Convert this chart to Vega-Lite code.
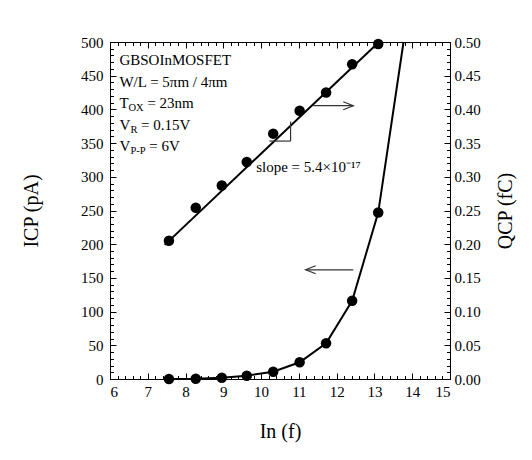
{
  "$schema": "https://vega.github.io/schema/vega-lite/v6.json",
  "width": 340,
  "height": 337,
  "autosize": {"type": "none"},
  "padding": {"left": 110, "top": 42, "right": 82, "bottom": 81},
  "background": "white",
  "config": {
    "view": {"stroke": "black", "strokeWidth": 1},
    "font": "Liberation Serif",
    "axis": {
      "grid": false,
      "domain": false,
      "labelFont": "Liberation Serif",
      "labelFontSize": 15,
      "labelColor": "black",
      "titleFont": "Liberation Serif",
      "titleFontSize": 20,
      "titleFontWeight": "normal",
      "titleColor": "black",
      "tickColor": "black",
      "tickWidth": 1
    }
  },
  "datasets": {
    "icp": [
      {"x": 7.56, "v": 0},
      {"x": 8.27, "v": 0.3},
      {"x": 8.96, "v": 1.8},
      {"x": 9.62, "v": 4.9},
      {"x": 10.32, "v": 10.8},
      {"x": 11.02, "v": 24.8},
      {"x": 11.72, "v": 53},
      {"x": 12.41, "v": 116},
      {"x": 13.1, "v": 247}
    ],
    "icp_line": [
      {"x": 7.56, "v": 0},
      {"x": 8.27, "v": 0.3},
      {"x": 8.96, "v": 1.8},
      {"x": 9.62, "v": 4.9},
      {"x": 10.32, "v": 10.8},
      {"x": 11.02, "v": 24.8},
      {"x": 11.72, "v": 53},
      {"x": 12.41, "v": 116},
      {"x": 13.1, "v": 247},
      {"x": 13.77, "v": 500}
    ],
    "qcp": [
      {"x": 7.56, "q": 0.205},
      {"x": 8.27, "q": 0.254},
      {"x": 8.96, "q": 0.287},
      {"x": 9.62, "q": 0.322},
      {"x": 10.32, "q": 0.364},
      {"x": 11.02, "q": 0.398},
      {"x": 11.72, "q": 0.425},
      {"x": 12.41, "q": 0.467},
      {"x": 13.1, "q": 0.497}
    ],
    "qfit": [
      {"x": 7.45, "q": 0.199},
      {"x": 13.12, "q": 0.5}
    ],
    "rules": [
      {"x": 10.22, "x2": 10.78, "y": 353, "y2": 353},
      {"x": 10.78, "x2": 10.78, "y": 353, "y2": 382},
      {"x": 11.38, "x2": 12.44, "y": 405.5, "y2": 405.5},
      {"x": 11.18, "x2": 12.44, "y": 162, "y2": 162}
    ],
    "heads": [
      {"x": 12.44, "y": 405.5, "dir": "right"},
      {"x": 11.18, "y": 162, "dir": "left"}
    ],
    "labels": [
      {"x": 6.25, "y": 474, "t": "GBSOInMOSFET"},
      {"x": 6.25, "y": 441, "t": "W/L = 5πm / 4πm"},
      {"x": 6.25, "y": 409, "t": "T"},
      {"x": 6.99, "y": 409, "t": "= 23nm"},
      {"x": 6.25, "y": 377, "t": "V"},
      {"x": 6.82, "y": 377, "t": "= 0.15V"},
      {"x": 6.25, "y": 345, "t": "V"},
      {"x": 7.04, "y": 345, "t": "= 6V"},
      {"x": 9.87, "y": 314, "t": "slope = 5.4×10⁻¹⁷"}
    ],
    "subs": [
      {"x": 6.49, "y": 409, "t": "OX"},
      {"x": 6.54, "y": 377, "t": "R"},
      {"x": 6.54, "y": 345, "t": "P-P"}
    ]
  },
  "resolve": {
    "scale": {"x": "independent", "y": "independent"},
    "axis": {"x": "independent", "y": "independent"}
  },
  "layer": [
    {
      "data": {"name": "icp_line"},
      "mark": {"type": "line", "color": "black", "strokeWidth": 2},
      "encoding": {
        "x": {"field": "x", "type": "quantitative",
          "scale": {"domain": [6, 15], "nice": false, "zero": false},
          "axis": {"orient": "bottom", "values": [6,7,8,9,10,11,12,13,14,15], "tickSize": -6, "labelPadding": 11, "title": "In (f)", "titlePadding": 22}},
        "y": {"field": "v", "type": "quantitative",
          "scale": {"domain": [0, 500], "nice": false},
          "axis": {"orient": "left", "values": [0,50,100,150,200,250,300,350,400,450,500], "tickSize": -6, "labelPadding": 13, "title": "ICP (pA)", "titlePadding": 39}}
      }
    },
    {
      "data": {"name": "icp"},
      "mark": {"type": "point", "filled": true, "color": "black", "size": 110, "opacity": 1},
      "encoding": {
        "x": {"field": "x", "type": "quantitative",
          "scale": {"domain": [6, 15], "nice": false, "zero": false},
          "axis": {"orient": "bottom", "values": [6,6.2,6.4,6.6,6.8,7,7.2,7.4,7.6,7.8,8,8.2,8.4,8.6,8.8,9,9.2,9.4,9.6,9.8,10,10.2,10.4,10.6,10.8,11,11.2,11.4,11.6,11.8,12,12.2,12.4,12.6,12.8,13,13.2,13.4,13.6,13.8,14,14.2,14.4,14.6,14.8,15], "tickSize": -3.5, "labels": false, "title": null}},
        "y": {"field": "v", "type": "quantitative",
          "scale": {"domain": [0, 500], "nice": false},
          "axis": {"orient": "left", "values": [0,10,20,30,40,50,60,70,80,90,100,110,120,130,140,150,160,170,180,190,200,210,220,230,240,250,260,270,280,290,300,310,320,330,340,350,360,370,380,390,400,410,420,430,440,450,460,470,480,490,500], "tickSize": -3.5, "labels": false, "title": null}}
      }
    },
    {
      "data": {"name": "qfit"},
      "mark": {"type": "line", "color": "black", "strokeWidth": 2},
      "encoding": {
        "x": {"field": "x", "type": "quantitative",
          "scale": {"domain": [6, 15], "nice": false, "zero": false},
          "axis": {"orient": "top", "values": [6,7,8,9,10,11,12,13,14,15], "tickSize": -6, "labels": false, "title": null}},
        "y": {"field": "q", "type": "quantitative",
          "scale": {"domain": [0, 0.5], "nice": false},
          "axis": {"orient": "right", "values": [0,0.05,0.1,0.15,0.2,0.25,0.3,0.35,0.4,0.45,0.5], "format": ".2f", "tickSize": -6, "labelPadding": 10, "title": "QCP (fC)", "titleAngle": -90, "titlePadding": 35}}
      }
    },
    {
      "data": {"name": "qcp"},
      "mark": {"type": "point", "filled": true, "color": "black", "size": 110, "opacity": 1},
      "encoding": {
        "x": {"field": "x", "type": "quantitative",
          "scale": {"domain": [6, 15], "nice": false, "zero": false},
          "axis": {"orient": "top", "values": [6,6.2,6.4,6.6,6.8,7,7.2,7.4,7.6,7.8,8,8.2,8.4,8.6,8.8,9,9.2,9.4,9.6,9.8,10,10.2,10.4,10.6,10.8,11,11.2,11.4,11.6,11.8,12,12.2,12.4,12.6,12.8,13,13.2,13.4,13.6,13.8,14,14.2,14.4,14.6,14.8,15], "tickSize": -3.5, "labels": false, "title": null}},
        "y": {"field": "q", "type": "quantitative",
          "scale": {"domain": [0, 0.5], "nice": false},
          "axis": {"orient": "right", "values": [0,0.01,0.02,0.03,0.04,0.05,0.06,0.07,0.08,0.09,0.1,0.11,0.12,0.13,0.14,0.15,0.16,0.17,0.18,0.19,0.2,0.21,0.22,0.23,0.24,0.25,0.26,0.27,0.28,0.29,0.3,0.31,0.32,0.33,0.34,0.35,0.36,0.37,0.38,0.39,0.4,0.41,0.42,0.43,0.44,0.45,0.46,0.47,0.48,0.49,0.5], "tickSize": -3.5, "labels": false, "title": null}}
      }
    },
    {
      "data": {"name": "rules"},
      "mark": {"type": "rule", "color": "#333", "strokeWidth": 1.2},
      "encoding": {
        "x": {"field": "x", "type": "quantitative", "scale": {"domain": [6, 15], "nice": false, "zero": false}, "axis": null},
        "x2": {"field": "x2"},
        "y": {"field": "y", "type": "quantitative", "scale": {"domain": [0, 500], "nice": false}, "axis": null},
        "y2": {"field": "y2"}
      }
    },
    {
      "data": {"name": "heads"},
      "mark": {"type": "point", "filled": false, "color": "#333", "strokeWidth": 1.2, "size": 400, "opacity": 1},
      "encoding": {
        "x": {"field": "x", "type": "quantitative", "scale": {"domain": [6, 15], "nice": false, "zero": false}, "axis": null},
        "y": {"field": "y", "type": "quantitative", "scale": {"domain": [0, 500], "nice": false}, "axis": null},
        "shape": {"field": "dir", "type": "nominal", "scale": {"domain": ["right", "left"], "range": ["M-1,-0.4L0,0L-1,0.4", "M1,-0.4L0,0L1,0.4"]}, "legend": null}
      }
    },
    {
      "data": {"name": "labels"},
      "mark": {"type": "text", "font": "Liberation Serif", "fontSize": 15, "align": "left", "baseline": "middle", "color": "black"},
      "encoding": {
        "x": {"field": "x", "type": "quantitative", "scale": {"domain": [6, 15], "nice": false, "zero": false}, "axis": null},
        "y": {"field": "y", "type": "quantitative", "scale": {"domain": [0, 500], "nice": false}, "axis": null},
        "text": {"field": "t"}
      }
    },
    {
      "data": {"name": "subs"},
      "mark": {"type": "text", "font": "Liberation Serif", "fontSize": 10.5, "align": "left", "baseline": "middle", "dy": 5, "color": "black"},
      "encoding": {
        "x": {"field": "x", "type": "quantitative", "scale": {"domain": [6, 15], "nice": false, "zero": false}, "axis": null},
        "y": {"field": "y", "type": "quantitative", "scale": {"domain": [0, 500], "nice": false}, "axis": null},
        "text": {"field": "t"}
      }
    }
  ]
}
